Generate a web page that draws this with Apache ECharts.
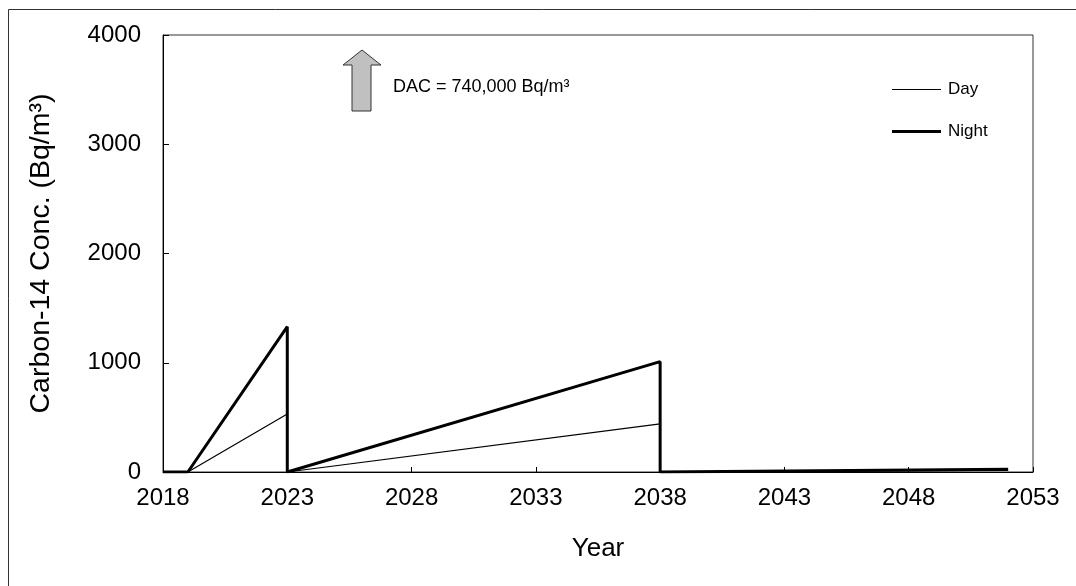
<!DOCTYPE html>
<html>
<head>
<meta charset="utf-8">
<script src="https://cdn.jsdelivr.net/npm/echarts@6/dist/echarts.min.js"></script>
<style>
  html, body { margin: 0; padding: 0; background: #fff; }
  #chart { width: 1076px; height: 586px; }
</style>
</head>
<body>
<div id="chart"></div>
<script>
// Carbon-14 concentration over time, day and night releases
const startYear = 2018;
const endYear = 2053;
const yTicks = [0, 1000, 2000, 3000, 4000];

const dayYears   = [2018, 2019, 2023, 2023, 2038, 2038, 2052];
const dayConc    = [0,    0,    530,  0,    440,  0,    15];
const nightYears = [2018, 2019, 2023, 2023, 2038, 2038, 2052];
const nightConc  = [0,    0,    1330, 0,    1010, 0,    25];

const dacLabel = 'DAC = 740,000 Bq/m\u00b3';

// x values are stored as years; the axis runs on years since startYear
const toPoints = (years, vals) => years.map((y, i) => [y - startYear, vals[i]]);

const FONT = 'Liberation Sans, Arial, sans-serif';
const chart = echarts.init(document.getElementById('chart'), null, { renderer: 'canvas' });

chart.setOption({
  animation: false,
  backgroundColor: '#fff',
  textStyle: { fontFamily: FONT, color: '#000' },
  grid: {
    left: 163, right: 43, top: 35, bottom: 114,
    show: true, borderColor: '#333', borderWidth: 1, backgroundColor: 'transparent'
  },
  legend: {
    orient: 'vertical',
    left: 887, top: 76,
    itemWidth: 49, itemHeight: 14, itemGap: 25,
    textStyle: { fontFamily: FONT, fontSize: 17, color: '#000', padding: [0, 0, 0, 2] },
    data: [
      { name: 'Day', icon: 'path://M0,0H49V1.2H0Z' },
      { name: 'Night', icon: 'path://M0,0H49V3H0Z' }
    ]
  },
  xAxis: {
    type: 'value',
    min: 0, max: endYear - startYear, interval: 5,
    name: 'Year', nameLocation: 'middle', nameGap: 64,
    nameTextStyle: { fontFamily: FONT, fontSize: 26, color: '#000' },
    axisLine: { show: true, onZero: false, lineStyle: { color: '#000', width: 1 } },
    axisTick: { show: true, inside: true, length: 5, lineStyle: { color: '#000' } },
    axisLabel: { fontFamily: FONT, fontSize: 24, color: '#000', margin: 14,
      formatter: v => String(v + startYear) },
    splitLine: { show: false }
  },
  yAxis: {
    type: 'value',
    min: yTicks[0], max: yTicks[yTicks.length - 1], interval: 1000,
    name: 'Carbon-14 Conc. (Bq/m\u00b3)', nameLocation: 'middle', nameGap: 107,
    nameTextStyle: { fontFamily: FONT, fontSize: 28.5, color: '#000' },
    axisLine: { show: true, lineStyle: { color: '#000', width: 1 } },
    axisTick: { show: true, inside: true, length: 6, lineStyle: { color: '#000' } },
    axisLabel: { fontFamily: FONT, fontSize: 24, color: '#000', margin: 22,
      formatter: v => String(v) },
    splitLine: { show: false }
  },
  series: [
    {
      name: 'Day', type: 'line', symbol: 'none',
      data: toPoints(dayYears, dayConc),
      lineStyle: { color: '#000', width: 1.2 },
      itemStyle: { color: '#000' }
    },
    {
      name: 'Night', type: 'line', symbol: 'none',
      data: toPoints(nightYears, nightConc),
      lineStyle: { color: '#000', width: 3 },
      itemStyle: { color: '#000' }
    }
  ],
  graphic: [
    {
      type: 'rect', silent: true, z: -1,
      shape: { x: 8.5, y: 9.5, width: 1100, height: 600 },
      style: { fill: 'none', stroke: '#333', lineWidth: 1 }
    },
    {
      type: 'polygon', silent: true,
      shape: { points: [[362, 50], [381, 65], [371, 65], [371, 111], [352, 111], [352, 65], [343, 65]] },
      style: { fill: '#c0c0c0', stroke: '#333', lineWidth: 1 }
    },
    {
      type: 'text', silent: true,
      left: 393, top: 78,
      style: { text: dacLabel, fontFamily: FONT, fontSize: 18, fill: '#000' }
    }
  ]
});
</script>
</body>
</html>
